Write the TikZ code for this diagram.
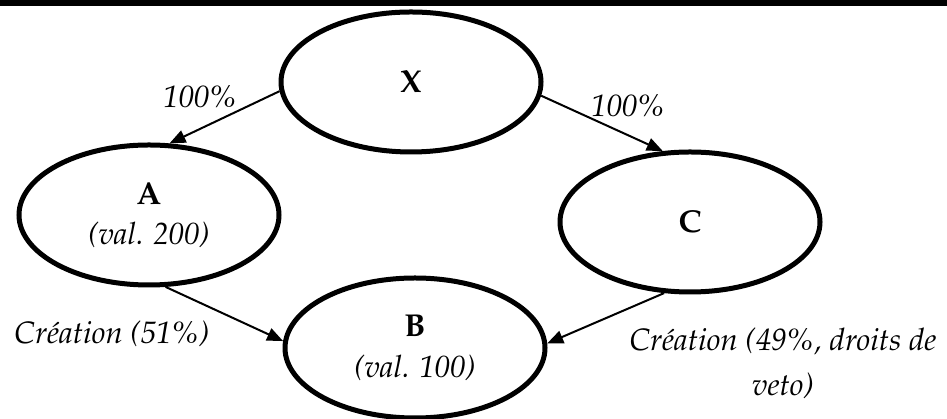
\documentclass[tikz,border=0pt]{standalone}
\usepackage[T1]{fontenc}
\usepackage{mathpazo}
\usepackage{tikz}
\usetikzlibrary{arrows.meta,shapes.geometric}

\tikzset{
	entity/.style={draw, ellipse, line width=1mm, minimum width=5.2cm, minimum height=2.8cm, align=center, font=\fontsize{18}{23}\selectfont\bfseries},
	link/.style={line width=0.4mm, -{Triangle[length=3.2mm, width=2.6mm]}},
	pct/.style={font=\fontsize{17.6}{25.5}\selectfont\itshape, align=center}
}

\begin{document}
\begin{tikzpicture}
			%%%%% START %%%%%
			
			\useasboundingbox (0, 0) rectangle (18.94, 8.38);
			
			\fill[black] (0, 8.26) rectangle (18.94, 8.38);
			
			\node[entity] (X) at (8.22, 6.74) {X};
			\node[entity] (A) at (2.98, 4.08) {A\\ {\fontsize{17.5}{23}\selectfont\mdseries\itshape (val. 200)}};
			\node[entity] (C) at (13.80, 3.94) {C};
			\node[entity] (B) at (8.30, 1.42) {B\\ {\fontsize{17.5}{23}\selectfont\mdseries\itshape (val. 100)}};
			
			\draw[link] (X.184) -- (A.74);
			\draw[link] (X.354) -- (C.111);
			\draw[link] (A.283) -- (B.177);
			\draw[link] (C.250) -- (B.2);
			
			\node[pct] (pXA) at (4.00, 6.44) {100\%};
			\node[pct] (pXC) at (12.56, 6.26) {100\%};
			\node[pct] (pAB) at (2.24, 1.70) {Cr\'eation (51\%)};
			\node[pct] (pCB) at (15.66, 1.11) {Cr\'eation (49\%, droits de\\ veto)};
			
			%%%%% END %%%%%
		\end{tikzpicture}
\end{document}
